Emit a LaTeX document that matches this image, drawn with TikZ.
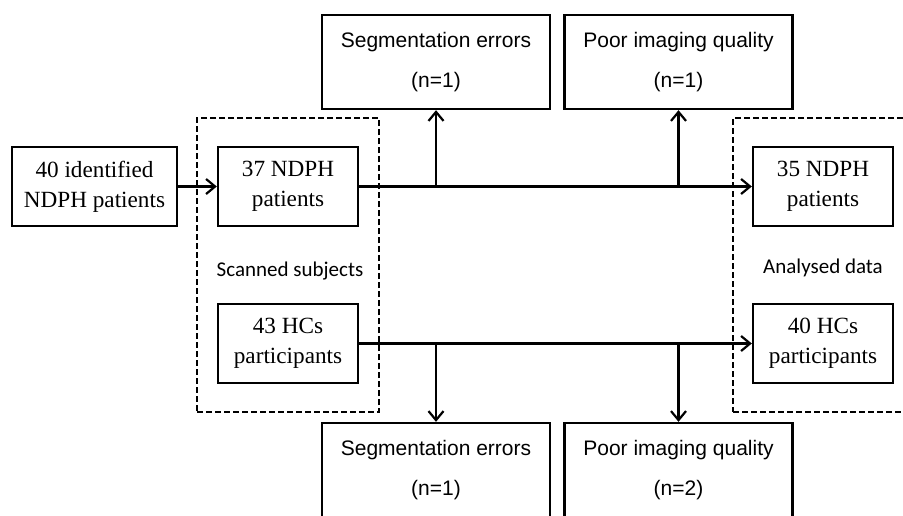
\documentclass[tikz,border=0pt]{standalone}
\usepackage{fontspec}
\setmainfont{Liberation Serif}
\setsansfont{Liberation Sans}
\newfontfamily\calibrifont{Carlito}
\usetikzlibrary{
    positioning,
    arrows.meta,
    calc,
}
\tikzset{
    % Box styles
    subject/.style={rectangle, draw, line width=1.2pt, minimum width=70pt,
                    minimum height=39.5pt, align=center, inner sep=0pt,
                    font=\fontsize{11.6}{15}\selectfont},
    excluded/.style={rectangle, draw, line width=1.2pt, minimum width=114pt,
                     minimum height=47pt, align=center, inner sep=0pt,
                     font=\sffamily\fontsize{10.5}{20}\selectfont},
    % Group styles
    group box/.style={rectangle, draw, line width=1.2pt, dash pattern=on 3pt off 1.5pt,
                      minimum height=147pt, inner sep=0pt},
    annot/.style={font=\calibrifont\fontsize{10.5}{12}\selectfont},
    % Arrow styles
    arrow/.style={-{Straight Barb[length=4.5pt, width=7.5pt]}, line width=1.1pt},
}

\begin{document}
\begin{tikzpicture}[x=0.5pt, y=-0.5pt]
    \clip (0,0) rectangle (903,515);

    % Groups
    \node[group box, minimum width=91pt] (scanned) at (288,265) {};
    \node[group box, minimum width=95pt] (analysed) at (828,265) {};
    \node[annot] (scannedlbl) at (290,271) {Scanned subjects};
    \node[annot] (analysedlbl) at (823,268) {Analysed data};

    % Subjects
    \node[subject, minimum width=82.5pt] (ident) at (94.5,186.5) {40 identified\\NDPH patients};
    \node[subject] (ndph) at (288,186.5) {37 NDPH\\patients};
    \node[subject] (hc) at (288,343.5) {43 HCs\\participants};
    \node[subject] (ndphout) at (823,186.5) {35 NDPH\\patients};
    \node[subject] (hcout) at (823,343.5) {40 HCs\\participants};

    % Exclusions
    \node[excluded] (segtop) at (436,62) {Segmentation errors\\(n=1)};
    \node[excluded] (qualtop) at (678.5,62) {Poor imaging quality\\(n=1)};
    \node[excluded] (segbot) at (436,470) {Segmentation errors\\(n=1)};
    \node[excluded] (qualbot) at (678.5,470) {Poor imaging quality\\(n=2)};

    % Flow
    \draw[arrow] (ident) -- (ndph);
    \draw[arrow] (ndph) -- (ndphout);
    \draw[arrow] (hc) -- (hcout);
    \draw[arrow] (ndph.east -| segtop.south) -- (segtop);
    \draw[arrow] (ndph.east -| qualtop.south) -- (qualtop);
    \draw[arrow] (hc.east -| segbot.north) -- (segbot);
    \draw[arrow] (hc.east -| qualbot.north) -- (qualbot);
\end{tikzpicture}
\end{document}
